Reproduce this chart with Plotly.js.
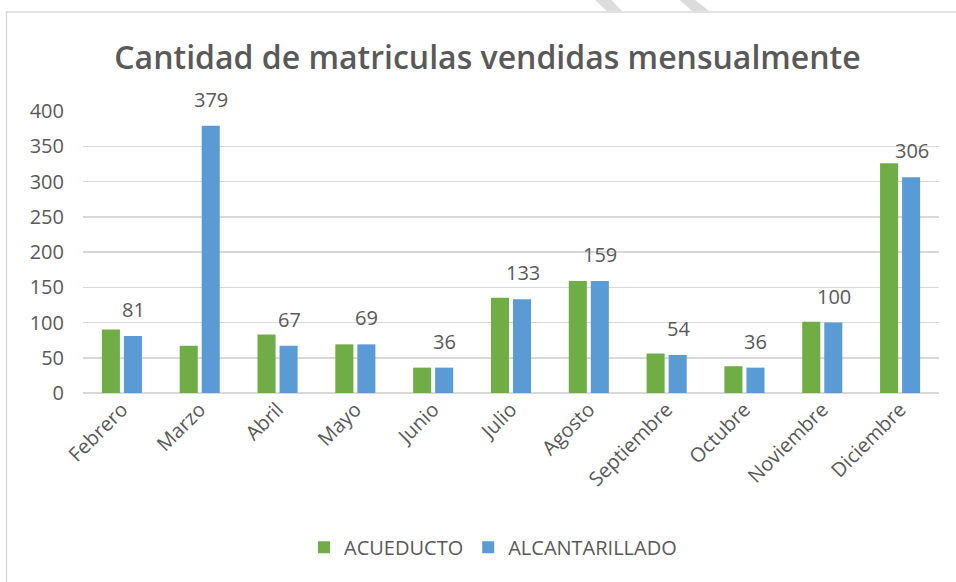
<!DOCTYPE html>
<html>
<head>
<meta charset="utf-8">
<script src="https://cdn.plot.ly/plotly-3.0.1.min.js"></script>
<style>
  html, body { margin: 0; padding: 0; background: #ffffff; }
  #chart { width: 956px; height: 582px; }
</style>
</head>
<body>
<div id="chart"></div>
<script>
// Data
const months = ["Febrero", "Marzo", "Abril", "Mayo", "Junio", "Julio", "Agosto",
                "Septiembre", "Octubre", "Noviembre", "Diciembre"];
const acueducto = [90, 67, 83, 69, 36, 135, 159, 56, 38, 101, 326];
const alcantarillado = [81, 379, 67, 69, 36, 133, 159, 54, 36, 100, 306];
const seriesNames = ["ACUEDUCTO", "ALCANTARILLADO"];
const yTicks = [0, 50, 100, 150, 200, 250, 300, 350, 400];

const FONT = "'Open Sans', 'Noto Sans', sans-serif";
const GRAY = "#595959";

// px -> paper helpers (plot area: x 83..939, y 110.7..393.3)
const L = 83, R = 17, T = 110.7, B = 582 - 393.3;
const pw = 956 - L - R, ph = 582 - T - B;
const xp = px => (px - L) / pw;
const yp = py => (582 - B - py) / ph;

const traces = [
  {
    type: "bar", name: seriesNames[0], x: months, y: acueducto,
    marker: { color: "#70ad47" }, hoverinfo: "x+y"
  },
  {
    type: "bar", name: seriesNames[1], x: months, y: alcantarillado,
    marker: { color: "#5b9bd5" }, hoverinfo: "x+y"
  }
];

const annotations = months.map((m, i) => ({
  x: m, y: alcantarillado[i], xref: "x", yref: "y",
  text: String(alcantarillado[i]), showarrow: false,
  xanchor: "center", yanchor: "bottom", xshift: 11.5, yshift: 11,
  font: { family: FONT, size: 20, color: GRAY }
}));

function poly(pts) {
  return "M" + pts.map(p => xp(p[0]).toFixed(5) + "," + yp(p[1]).toFixed(5)).join(" L") + " Z";
}

const shapes = [
  {
    type: "rect", xref: "paper", yref: "paper",
    x0: xp(6.5), x1: xp(970), y0: yp(600), y1: yp(11.5),
    line: { color: "#d9d9d9", width: 1.5 }, fillcolor: "rgba(0,0,0,0)", layer: "below"
  },
  {
    type: "path", xref: "paper", yref: "paper",
    path: poly([[592, -3], [609, -3], [622, 10.5], [607, 10.5]]),
    fillcolor: "#dcdcdc", line: { width: 0 }
  },
  {
    type: "path", xref: "paper", yref: "paper",
    path: poly([[677, -3], [692, -3], [709, 10.5], [692, 10.5]]),
    fillcolor: "#dcdcdc", line: { width: 0 }
  }
];

const layout = {
  width: 956, height: 582,
  margin: { l: L, r: R, t: T, b: B, pad: 0 },
  paper_bgcolor: "#ffffff", plot_bgcolor: "#ffffff",
  font: { family: FONT, size: 20, color: GRAY },
  title: {
    text: "Cantidad de matriculas vendidas mensualmente",
    font: { family: FONT, size: 32, color: GRAY, weight: 600 },
    x: 487.5 / 956, xanchor: "center", xref: "container",
    y: 1 - 58 / 582, yanchor: "middle", yref: "container"
  },
  barmode: "group",
  bargap: 0.434,
  bargroupgap: 0.18,
  xaxis: {
    type: "category",
    tickangle: -45,
    tickfont: { family: FONT, size: 20, color: GRAY },
    showgrid: false, zeroline: false,
    showline: false, ticks: "",
    automargin: false
  },
  yaxis: {
    range: [0, 400], tickvals: yTicks,
    tickfont: { family: FONT, size: 20, color: GRAY },
    showgrid: true, gridcolor: "#d9d9d9", gridwidth: 1.5,
    zeroline: true, zerolinecolor: "#d9d9d9", zerolinewidth: 1.5,
    showline: false, ticks: "", ticklabelstandoff: 18,
    automargin: false, fixedrange: true
  },
  showlegend: true,
  legend: {
    orientation: "h",
    x: xp(493), xanchor: "center",
    y: yp(548), yanchor: "middle",
    font: { family: FONT, size: 20, color: GRAY },
    bgcolor: "rgba(0,0,0,0)",
    itemclick: false, itemdoubleclick: false
  },
  annotations: annotations,
  shapes: shapes
};

Plotly.newPlot("chart", traces, layout, { displayModeBar: false, staticPlot: true });
</script>
</body>
</html>
